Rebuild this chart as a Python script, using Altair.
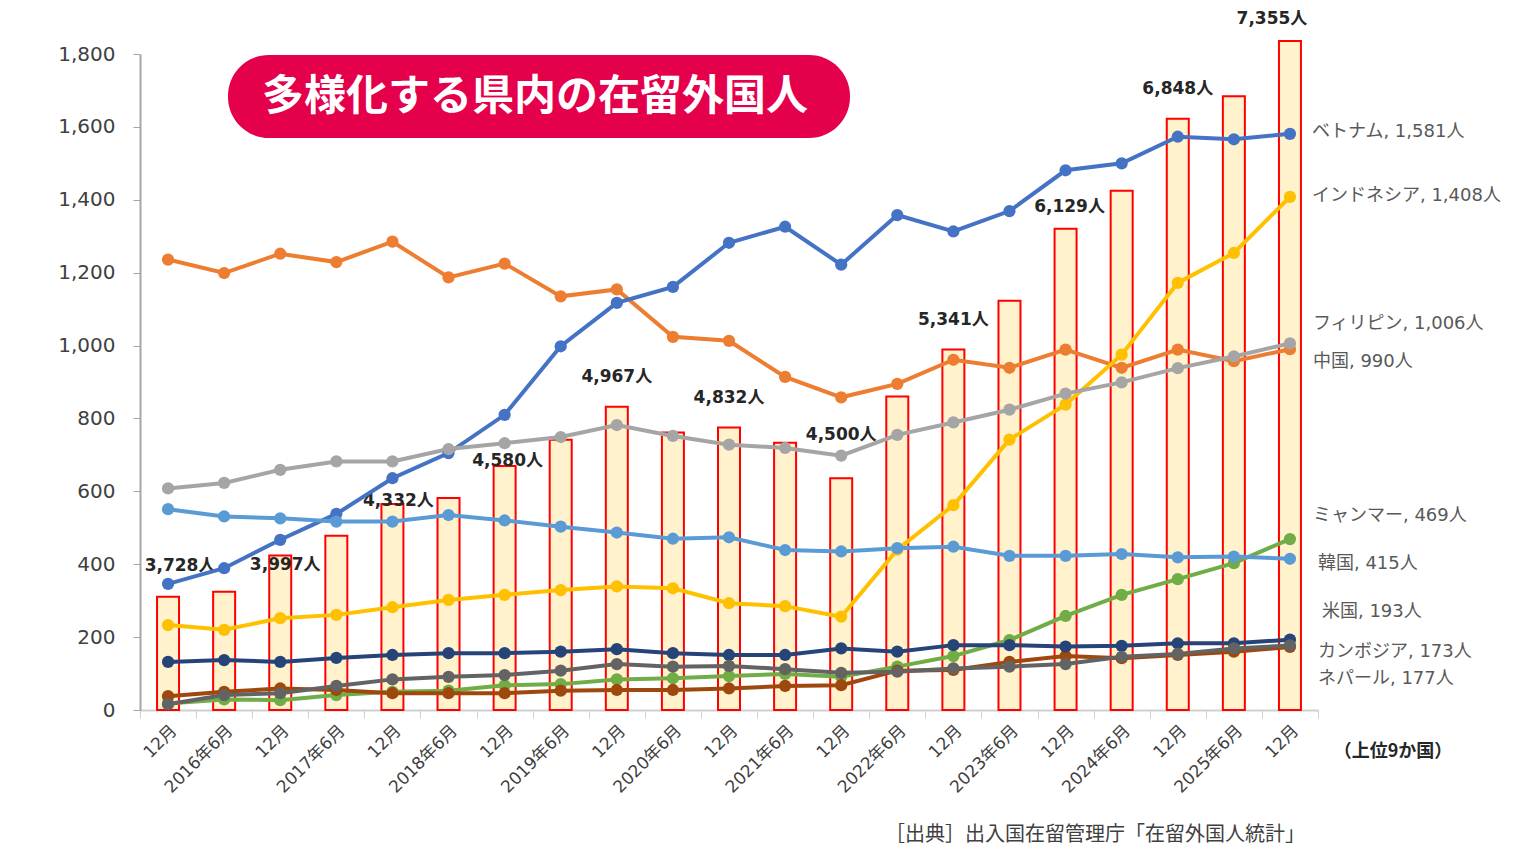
import altair as alt
import pandas as pd

# ---------------- data ----------------
periods = ["2015年12月", "2016年6月", "2016年12月", "2017年6月", "2017年12月",
           "2018年6月", "2018年12月", "2019年6月", "2019年12月", "2020年6月",
           "2020年12月", "2021年6月", "2021年12月", "2022年6月", "2022年12月",
           "2023年6月", "2023年12月", "2024年6月", "2024年12月", "2025年6月",
           "2025年12月"]

totals = [3728, 3760, 3997, 4126, 4332, 4372, 4580, 4752, 4967, 4799, 4832,
          4732, 4500, 5034, 5341, 5659, 6129, 6378, 6848, 6995, 7355]

vietnam = [346, 389, 467, 538, 636, 705, 810, 998, 1117, 1161, 1282, 1326, 1222,
           1358, 1313, 1369, 1481, 1500, 1573, 1566, 1581]
indonesia = [233, 220, 252, 261, 282, 302, 316, 329, 339, 334, 293, 285, 256,
             440, 562, 742, 838, 975, 1172, 1254, 1408]
philippines = [608, 623, 659, 682, 682, 716, 732, 749, 782, 752, 728, 719, 698,
               755, 789, 824, 868, 899, 938, 970, 1006]
china = [1236, 1199, 1252, 1229, 1285, 1187, 1225, 1135, 1154, 1024, 1013, 914,
         858, 895, 961, 939, 989, 939, 989, 957, 990]
myanmar = [18, 29, 27, 41, 50, 53, 68, 71, 84, 87, 93, 99, 91, 119, 148, 192,
           258, 316, 359, 403, 469]
korea = [551, 531, 526, 517, 517, 535, 520, 503, 487, 470, 474, 439, 435, 444,
         448, 423, 423, 428, 419, 421, 415]
usa = [132, 137, 132, 143, 151, 156, 156, 160, 167, 156, 151, 151, 169, 160,
       178, 178, 174, 176, 183, 183, 193]
cambodia = [38, 50, 59, 55, 46, 46, 46, 53, 55, 55, 59, 66, 68, 108, 110, 132,
            148, 142, 151, 160, 173]
nepal = [16, 41, 46, 66, 84, 91, 96, 108, 126, 119, 121, 112, 102, 105, 114,
         119, 126, 146, 154, 169, 177]

countries = ["中国", "ベトナム", "インドネシア", "フィリピン", "ミャンマー",
             "韓国", "カンボジア", "米国", "ネパール"]
series = [china, vietnam, indonesia, philippines, myanmar, korea, cambodia, usa, nepal]
colors = ["#ED7D31", "#4472C4", "#FFC000", "#A5A5A5", "#70AD47", "#5B9BD5",
          "#9E480E", "#264478", "#636363"]

title_text = "多様化する県内の在留外国人"
note_text = "（上位9か国）"
source_text = "［出典］出入国在留管理庁「在留外国人統計」"

FONT = "DejaVu Sans, Noto Sans CJK JP"
JP = "Noto Sans CJK JP"

# ---------------- tables ----------------
tot_df = pd.DataFrame({"period": periods, "total": totals})
tot_df["lab"] = [f"{t:,}人" for t in totals]
rows = []
for c, vals in zip(countries, series):
    for p, v in zip(periods, vals):
        rows.append({"period": p, "country": c, "value": v})
long_df = pd.DataFrame(rows)
ends_df = pd.DataFrame({
    "period": [periods[-1]] * len(countries),
    "country": countries,
    "value": [s[-1] for s in series],
})
ends_df["lab"] = [f"{c}, {v:,}人" for c, v in zip(ends_df["country"], ends_df["value"])]

BAR_DOMAIN = [2988, 7270]

x_axis = alt.Axis(
    title=None, labelAngle=-45, labelFontSize=17, labelColor="#404040",
    labelFont=FONT, tickBand="extent", tickSize=8, tickColor="#D0D0D0",
    domainColor="#D0D0D0", domainWidth=2, labelPadding=4, grid=False,
    labelExpr="datum.value == null ? '' : (indexof(datum.value + '', '12月') >= 0 ? '12月' : datum.value)",
)
x_enc = alt.X("period:N", sort=periods, axis=x_axis,
              scale=alt.Scale(paddingInner=0, paddingOuter=0))

# ---------------- bars (secondary, hidden scale) ----------------
bar_y = alt.Y("total:Q", scale=alt.Scale(domain=BAR_DOMAIN, zero=False), axis=None)
bars = alt.Chart(tot_df).mark_bar(
    size=22, fill="#FFF2CC", stroke="#FF0000", strokeWidth=2
).encode(x=x_enc, y=bar_y, y2=alt.Y2(datum=BAR_DOMAIN[0]))

special = {
    "2015年12月": (12, -31),
    "2016年12月": (5, 10),
    "2017年12月": (6, -3),
    "2018年12月": (3, -5),
    "2021年12月": (0, -43),
    "2023年12月": (4, -22),
    "2025年12月": (-18, -22),
}
default_periods = [p for p in periods if "12月" in p and p not in special]
tot_labels = [
    alt.Chart(tot_df[tot_df["period"].isin(default_periods)]).mark_text(
        fontSize=17, fontWeight="bold", font=FONT, color="#262626",
        dy=-30, baseline="middle").encode(x=x_enc, y=bar_y, text="lab:N")
]
for p, (ddx, ddy) in special.items():
    tot_labels.append(
        alt.Chart(tot_df[tot_df["period"] == p]).mark_text(
            fontSize=17, fontWeight="bold", font=FONT, color="#262626",
            dx=ddx, dy=ddy, baseline="middle").encode(x=x_enc, y=bar_y, text="lab:N")
    )
bar_layer = alt.layer(bars, *tot_labels)

# ---------------- lines ----------------
y_axis = alt.Axis(
    orient="left", title=None, values=list(range(0, 1801, 200)), format=",d",
    labelFontSize=20, labelColor="#404040", labelFont=FONT, tickSize=7,
    tickColor="#A6A6A6", domainColor="#A6A6A6", domainWidth=2,
    gridColor="#BFBFBF", gridWidth=2, labelPadding=18,
)
line_y = alt.Y("value:Q", scale=alt.Scale(domain=[0, 1800]), axis=y_axis)
color = alt.Color("country:N", scale=alt.Scale(domain=countries, range=colors), legend=None)

lines = alt.Chart(long_df).mark_line(strokeWidth=4).encode(
    x=x_enc, y=line_y, color=color, detail="country:N")
points = alt.Chart(long_df).mark_circle(size=150, opacity=1).encode(
    x=x_enc, y=line_y, color=color)

offsets = {
    "ベトナム": (22, -2), "インドネシア": (22, -1), "フィリピン": (23, -19),
    "中国": (23, 13), "ミャンマー": (23, -23), "韓国": (28, 5),
    "米国": (32, -28), "カンボジア": (28, 5), "ネパール": (28, 34),
}
end_labels = []
for c in countries:
    ddx, ddy = offsets[c]
    end_labels.append(
        alt.Chart(ends_df[ends_df["country"] == c]).mark_text(
            align="left", baseline="middle", fontSize=18, font=FONT,
            color="#595959", dx=ddx, dy=ddy)
        .encode(x=x_enc, y=line_y, text="lab:N")
    )

# ---------------- annotations ----------------
ann = alt.Chart(pd.DataFrame({"t": [title_text]}))
title_box = ann.mark_rect(color="#E4004B", cornerRadius=41).encode(
    x=alt.value(88), x2=alt.value(710), y=alt.value(1), y2=alt.value(84))
title_lbl = ann.mark_text(color="white", fontSize=42, fontWeight="bold", font=JP,
                          align="center", baseline="middle").encode(
    x=alt.value(395), y=alt.value(43), text="t:N")
note = alt.Chart(pd.DataFrame({"t": [note_text]})).mark_text(
    fontSize=18, fontWeight="bold", font=JP, color="#262626",
    align="center", baseline="middle").encode(
    x=alt.value(1253), y=alt.value(698), text="t:N")
source = alt.Chart(pd.DataFrame({"t": [source_text]})).mark_text(
    fontSize=20, font=JP, color="#404040", align="center", baseline="middle").encode(
    x=alt.value(955), y=alt.value(781), text="t:N")

line_layer = alt.layer(lines, points, *end_labels, title_box, title_lbl, note, source)

chart = alt.layer(bar_layer, line_layer).resolve_scale(
    y="independent"
).properties(
    width=1178, height=656,
    autosize=alt.AutoSizeParams(type="none"),
    padding={"left": 132, "top": 46, "right": 186, "bottom": 138},
    background="white",
).configure_view(stroke=None)

chart.save("out.html", embed_options={"renderer": "svg", "actions": False})
